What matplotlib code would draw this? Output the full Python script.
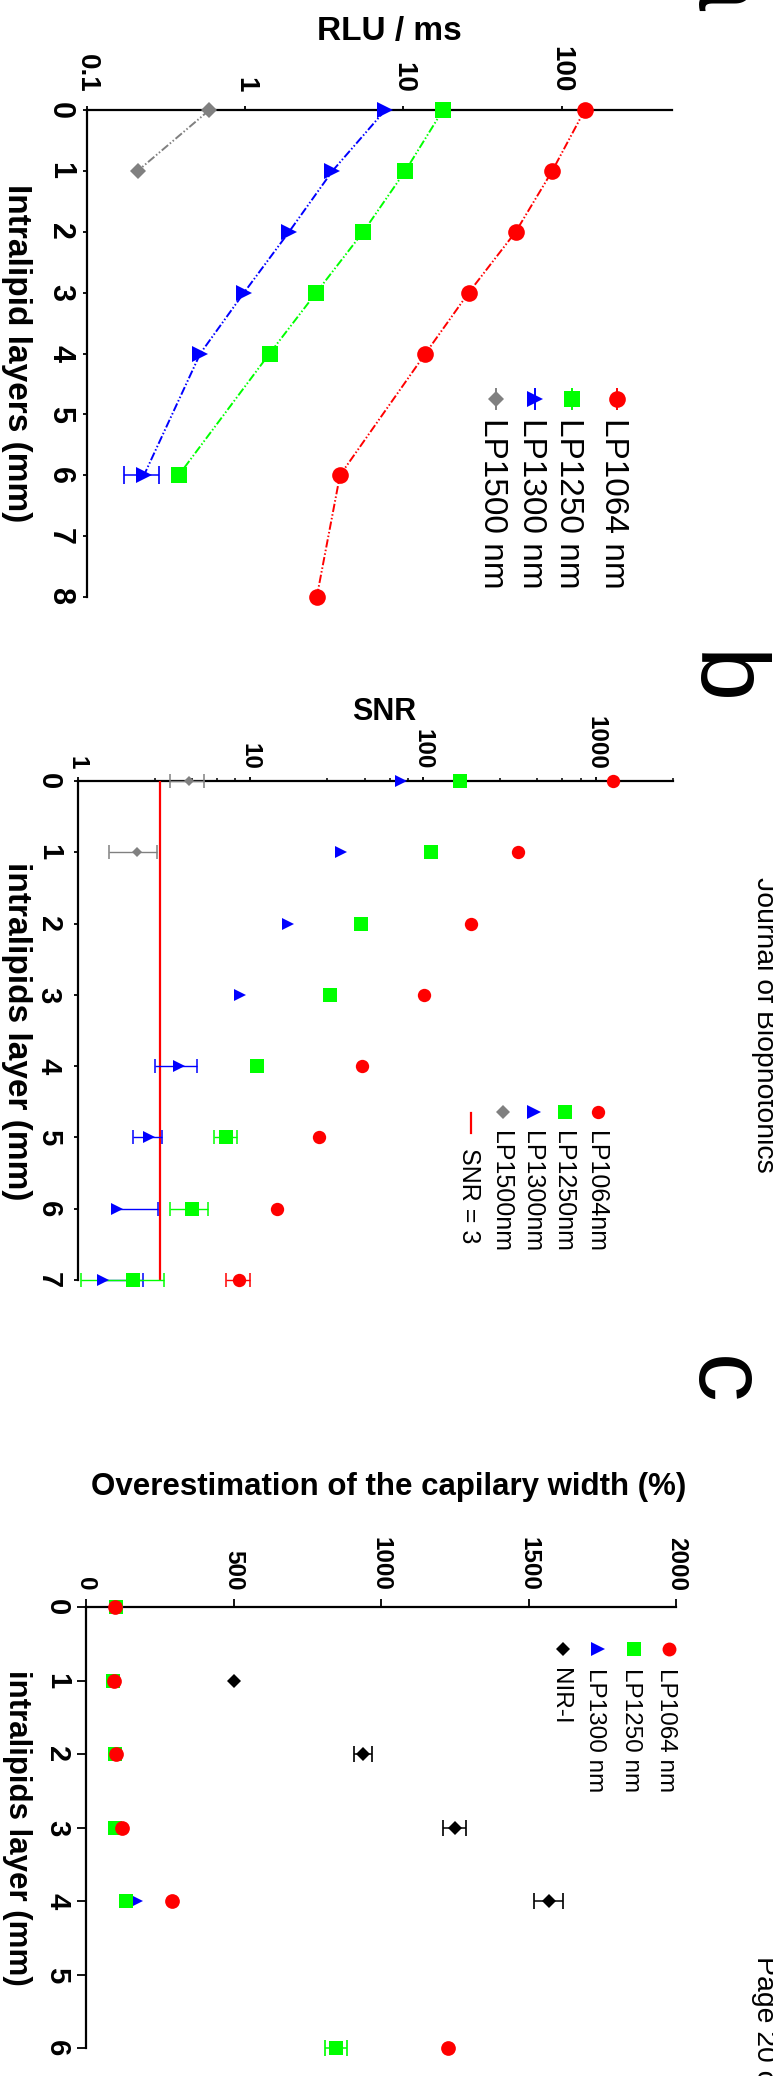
import matplotlib
matplotlib.use('Agg')
import matplotlib.pyplot as plt
from matplotlib.ticker import FixedLocator, NullLocator, NullFormatter

plt.rcParams['font.family'] = ['Liberation Sans', 'DejaVu Sans']
plt.rcParams['lines.scale_dashes'] = False

W, H, DPI = 773, 2076, 100
PT = DPI / 72.0  # pixels per point

# ---------------- data ----------------
# Panel a : RLU / ms versus intralipid layers
a_layers_1064 = [0, 1, 2, 3, 4, 6, 8]
a_rlu_1064 = [140, 87.3, 51.3, 25.9, 13.8, 3.98, 2.84]
a_layers_1250 = [0, 1, 2, 3, 4, 6]
a_rlu_1250 = [17.8, 10.3, 5.59, 2.82, 1.43, 0.381]
a_layers_1300 = [0, 1, 2, 3, 4, 6]
a_rlu_1300 = [7.7, 3.57, 1.90, 0.986, 0.522, 0.23]
a_err_1300 = [0, 0, 0, 0, 0, 0.057]
a_layers_1500 = [0, 1]
a_rlu_1500 = [0.596, 0.21]
a_value_ticks = [0.1, 1, 10, 100]
a_value_ticklabels = ['0.1', '1', '10', '100']
a_layer_ticks = [0, 1, 2, 3, 4, 5, 6, 7, 8]
a_legend = ['LP1064 nm', 'LP1250 nm', 'LP1300 nm', 'LP1500 nm']

# Panel b : SNR
b_layers = [0, 1, 2, 3, 4, 5, 6, 7]
b_snr_1064 = [1251, 354.6, 190.4, 101, 44.4, 25.0, 14.3, 8.62]
b_err_1064 = [0, 0, 0, 0, 0, 0, 0, 1.4]
b_snr_1250 = [163.6, 110.6, 43.6, 28.8, 11.0, 7.28, 4.58, 2.10]
b_err_1250 = [0, 0, 0, 0, 0, 1.14, 1.15, 1.05]
b_snr_1300 = [74.3, 33.5, 16.5, 8.70, 3.86, 2.60, 1.69, 1.40]
b_errlo_1300 = [0, 0, 0, 0, 1.06, 0.5, 0, 0]
b_errhi_1300 = [0, 0, 0, 0, 1.06, 0.5, 1.23, 0.98]
b_layers_1500 = [0, 1]
b_snr_1500 = [4.42, 2.20]
b_err_1500 = [1.0, 0.67]
b_threshold = 3
b_value_ticks = [1, 10, 100, 1000]
b_value_ticklabels = ['1', '10', '100', '1000']
b_minor_ticks = [2.8, 4.6, 6.4, 8.2, 28, 46, 64, 82, 280, 460, 640, 820, 2800]
b_layer_ticks = [0, 1, 2, 3, 4, 5, 6, 7]
b_legend = ['LP1064nm', 'LP1250nm', 'LP1300nm', 'LP1500nm', 'SNR = 3']

# Panel c : overestimation of capillary width (%)
c_layers_1064 = [0, 1, 2, 3, 4, 6]
c_over_1064 = [98, 94, 101, 121, 290, 1226]
c_layers_1250 = [0, 1, 2, 3, 4, 6]
c_over_1250 = [102, 93, 97, 98, 136, 846]
c_err_1250 = [0, 0, 0, 0, 0, 37]
c_layers_1300 = [0, 1, 2, 3, 4]
c_over_1300 = [105, 95, 100, 105, 168]
c_layers_nir = [1, 2, 3, 4]
c_over_nir = [501, 939, 1249, 1568]
c_err_nir = [0, 29.5, 38, 49]
c_value_ticks = [0, 500, 1000, 1500, 2000]
c_value_ticklabels = ['0', '500', '1000', '1500', '2000']
c_layer_ticks = [0, 1, 2, 3, 4, 5, 6]
c_legend = ['LP1064 nm', 'LP1250 nm', 'LP1300 nm', 'NIR-I']

RED, GREEN, BLUE, GRAY, BLACK = '#FF0000', '#00FF00', '#0000FF', '#808080', '#000000'

fig = plt.figure(figsize=(W / DPI, H / DPI), dpi=DPI)


def add_ax(l, r, t, b):
    return fig.add_axes([l / W, 1 - b / H, (r - l) / W, (b - t) / H])


def style_ax(ax, vticks, vlabels, vsize, vlen, vpad, lticks, lsize, llen, lpad):
    for s in ['right', 'bottom']:
        ax.spines[s].set_visible(False)
    for s in ['top', 'left']:
        ax.spines[s].set_linewidth(1.6)
    ax.patch.set_alpha(0)
    ax.xaxis.set_ticks_position('top')
    ax.xaxis.set_major_locator(FixedLocator(vticks))
    ax.set_xticklabels(vlabels, fontweight='bold')
    ax.tick_params(axis='x', which='major', top=True, bottom=False, labeltop=True,
                   labelbottom=False, direction='out', length=vlen / PT, width=1.3,
                   pad=vpad / PT, labelsize=vsize, labelrotation=-90)
    ax.set_yticks(lticks)
    ax.set_yticklabels([str(v) for v in lticks], fontweight='bold')
    ax.tick_params(axis='y', which='major', left=True, right=False, labelleft=True,
                   direction='out', length=llen / PT, width=1.3, pad=lpad / PT,
                   labelsize=lsize, labelrotation=-90)
    for lbl in ax.get_yticklabels():
        lbl.set_verticalalignment('center')


def err_h(ax, xs, ys, lo, hi, color, cap_px, lw=1.0):
    for x, y, l, h in zip(xs, ys, lo, hi):
        if l == 0 and h == 0:
            continue
        x0 = x - l if l > 0 else x
        x1 = x + h if h > 0 else x
        ax.plot([x0, x1], [y, y], color=color, lw=lw, clip_on=False, zorder=3.2,
                solid_capstyle='butt')
        ends = ([x0] if l > 0 else []) + ([x1] if h > 0 else [])
        ax.plot(ends, [y] * len(ends), ls='none', marker='|', ms=cap_px / PT,
                mew=lw * 1.1, color=color, clip_on=False, zorder=3.2)


DASH = (0, (6, 1.6, 1.1, 1.6, 1.1, 1.6))

# ---------------- panel a ----------------
axa = add_ax(86.7, 672, 110, 597)
axa.set_xscale('log')
axa.set_xlim(0.1, 498)
axa.set_ylim(8, 0)
axa.xaxis.set_minor_locator(NullLocator())
style_ax(axa, a_value_ticks, a_value_ticklabels, 20, 4.3, 13, a_layer_ticks, 22, 4, 7.5)
series_a = [
    (a_layers_1500, a_rlu_1500, GRAY, 'D', 8.5),
    (a_layers_1300, a_rlu_1300, BLUE, '>', 11.2),
    (a_layers_1250, a_rlu_1250, GREEN, 's', 12),
    (a_layers_1064, a_rlu_1064, RED, 'o', 12),
]
for ly, vals, col, mk, ms in series_a:
    axa.plot(vals, ly, color=col, ls=DASH, lw=1.4, marker=mk, ms=ms, mew=0,
             clip_on=False, zorder=3.5)
err_h(axa, a_rlu_1300, a_layers_1300, a_err_1300, a_err_1300, BLUE, 17.3, 1.1)

# ---------------- panel b ----------------
axb = add_ax(77.5, 673, 781, 1280)
axb.set_xscale('log')
axb.set_xlim(1, 2800)
axb.set_ylim(7, 0)
style_ax(axb, b_value_ticks, b_value_ticklabels, 17.5, 4.3, 7, b_layer_ticks, 21, 4.3, 10.5)
axb.xaxis.set_minor_locator(FixedLocator(b_minor_ticks))
axb.xaxis.set_minor_formatter(NullFormatter())
axb.tick_params(axis='x', which='minor', top=True, bottom=False, direction='out',
                length=2.7 / PT, width=1.1)
axb.axvline(b_threshold, color=RED, lw=1.6, zorder=3.0)
err_h(axb, b_snr_1500, b_layers_1500, b_err_1500, b_err_1500, GRAY, 14.3, 1.0)
err_h(axb, b_snr_1300, b_layers, b_errlo_1300, b_errhi_1300, BLUE, 14.3, 1.0)
err_h(axb, b_snr_1250, b_layers, b_err_1250, b_err_1250, GREEN, 14.3, 1.0)
err_h(axb, b_snr_1064, b_layers, b_err_1064, b_err_1064, RED, 14.3, 1.0)
axb.plot(b_snr_1500, b_layers_1500, ls='none', marker='D', ms=5.2, mew=0, color=GRAY,
         clip_on=False, zorder=3.6)
axb.plot(b_snr_1300, b_layers, ls='none', marker='>', ms=8.9, mew=0, color=BLUE,
         clip_on=False, zorder=3.6)
axb.plot(b_snr_1250, b_layers, ls='none', marker='s', ms=9.6, mew=0, color=GREEN,
         clip_on=False, zorder=3.6)
axb.plot(b_snr_1064, b_layers, ls='none', marker='o', ms=9.6, mew=0, color=RED,
         clip_on=False, zorder=3.6)

# ---------------- panel c ----------------
axc = add_ax(86, 676.3, 1607.3, 2048.3)
axc.set_xlim(0, 2000)
axc.set_ylim(6, 0)
style_ax(axc, c_value_ticks, c_value_ticklabels, 17.5, 8, 8.5, c_layer_ticks, 21, 8.7, 6)
err_h(axc, c_over_nir, c_layers_nir, c_err_nir, c_err_nir, BLACK, 15.7, 1.1)
err_h(axc, c_over_1250, c_layers_1250, c_err_1250, c_err_1250, GREEN, 16.7, 1.1)
axc.plot(c_over_nir, c_layers_nir, ls='none', marker='D', ms=7.1, mew=0, color=BLACK,
         clip_on=False, zorder=3.6)
axc.plot(c_over_1300, c_layers_1300, ls='none', marker='>', ms=10, mew=0, color=BLUE,
         clip_on=False, zorder=3.6)
axc.plot(c_over_1250, c_layers_1250, ls='none', marker='s', ms=10.6, mew=0, color=GREEN,
         clip_on=False, zorder=3.7)
axc.plot(c_over_1064, c_layers_1064, ls='none', marker='o', ms=10.6, mew=0, color=RED,
         clip_on=False, zorder=3.8)

# ---------------- overlay: labels, legends, panel letters ----------------
ov = fig.add_axes([0, 0, 1, 1], zorder=10)
ov.set_xlim(0, W)
ov.set_ylim(H, 0)
ov.axis('off')


def vtext(x_base, y_start, s, size, weight='normal', ha='left'):
    ov.text(x_base, y_start, s, rotation=-90, rotation_mode='anchor', ha=ha,
            va='baseline', fontsize=size, fontweight=weight)


# value-axis titles (horizontal)
ov.text(389, 40, 'RLU / ms', ha='center', va='baseline', fontsize=24, fontweight='bold')
ov.text(384.5, 720, 'SNR', ha='center', va='baseline', fontsize=22, fontweight='bold')
ov.text(389, 1495, 'Overestimation of the capilary width (%)', ha='center',
        va='baseline', fontsize=22.5, fontweight='bold')

# layer-axis titles (vertical)
vtext(7.5, 353, 'Intralipid layers (mm)', 24, 'bold', ha='center')
vtext(8, 1031, 'intralipids layer (mm)', 24, 'bold', ha='center')
vtext(8.5, 1828, 'intralipids layer (mm)', 22.5, 'bold', ha='center')

# legend a
leg_a = [(617.3, RED, 'o', 12), (572.3, GREEN, 's', 12), (534.7, BLUE, '>', 11.2),
         (495.7, GRAY, 'D', 8.5)]
for (x, col, mk, ms), lab in zip(leg_a, a_legend):
    ov.plot([x, x], [389, 409], color=col, lw=1.4)
    ov.plot([x], [399], marker=mk, ms=ms, mew=0, color=col, ls='none')
    vtext(x - 0.358 * 24 * PT, 418.5, lab, 24)

# legend b
leg_b = [(598, RED, 'o', 9.6), (564.7, GREEN, 's', 10), (533.7, BLUE, '>', 9.6),
         (503, GRAY, 'D', 6.8)]
for (x, col, mk, ms), lab in zip(leg_b, b_legend[:4]):
    ov.plot([x], [1112.3], marker=mk, ms=ms, mew=0, color=col, ls='none')
    vtext(x - 0.358 * 18 * PT, 1131, lab, 18)
ov.plot([471.3, 471.3], [1113, 1133], color=RED, lw=1.6)
vtext(471.3 - 0.358 * 18 * PT, 1148.5, b_legend[4], 18)

# legend c
leg_c = [(669, RED, 'o', 10), (633.7, GREEN, 's', 10), (598, BLUE, '>', 10.3),
         (563, BLACK, 'D', 7.1)]
for (x, col, mk, ms), lab in zip(leg_c, c_legend):
    ov.plot([x], [1649], marker=mk, ms=ms, mew=0, color=col, ls='none')
    vtext(x - 0.358 * 17.5 * PT, 1667.5, lab, 17.5)

# panel letters
vtext(695, -40, 'a', 70)
vtext(695, 652, 'b', 70)
vtext(695, 1356, 'c', 70)

# page furniture (cut at right edge)
vtext(757, 877, 'Journal of Biophotonics', 20.4)
vtext(757, 1956, 'Page 20 of 30', 20.4)

fig.savefig('out.png', dpi=DPI)
